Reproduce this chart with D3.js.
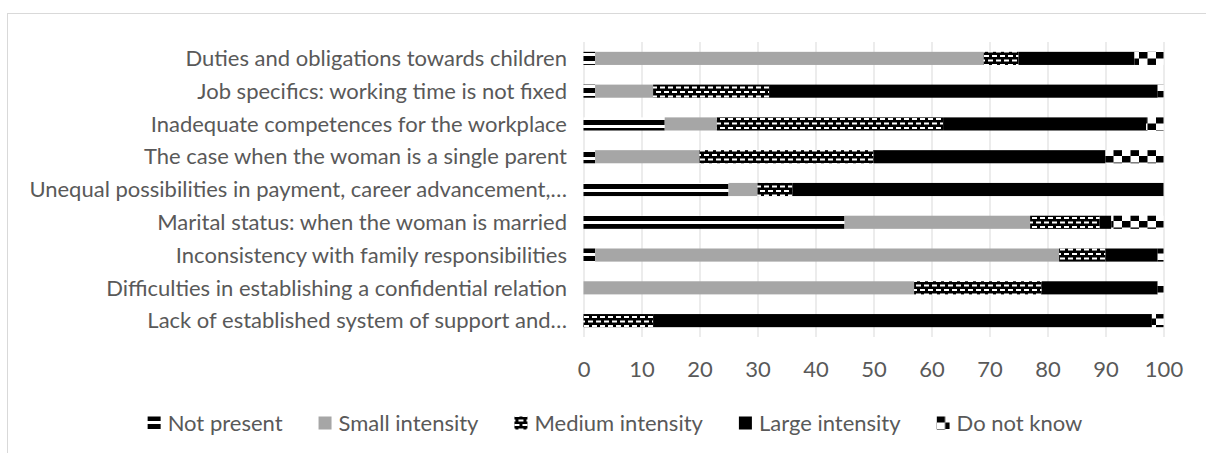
<!DOCTYPE html>
<html>
<head>
<meta charset="utf-8">
<script src="https://d3js.org/d3.v7.min.js"></script>
<style>
  body { margin: 0; background: #fff; }
  text { font-family: Lato, "Noto Sans", sans-serif; fill: #595959; }
</style>
</head>
<body>
<div id="chart"></div>
<script>

// categories, top to bottom
var categories = [
  "Duties and obligations towards children",
  "Job specifics: working time is not fixed",
  "Inadequate competences for the workplace",
  "The case when the woman is a single parent",
  "Unequal possibilities in payment, career advancement,…",
  "Marital status: when the woman is married",
  "Inconsistency with family responsibilities",
  "Difficulties in establishing a confidential relation",
  "Lack of established system of support and…"
];

var seriesNames = ["Not present", "Small intensity", "Medium intensity", "Large intensity", "Do not know"];

// shares in %, one value per category
var notPresent = [2, 2, 14, 2, 25, 45, 2, 0, 0];
var smallInt   = [67, 10, 9, 18, 5, 32, 80, 57, 0];
var mediumInt  = [6, 20, 39, 30, 6, 12, 8, 22, 12];
var largeInt   = [20, 67, 35, 40, 64, 2, 9, 20, 86];
var doNotKnow  = [5, 1, 3, 10, 0, 9, 1, 1, 2];

var xTicks = [0, 10, 20, 30, 40, 50, 60, 70, 80, 90, 100];

var W = 1206, H = 453;
var plotLeft = 583.5, plotRight = 1163.5, plotTop = 42, plotBottom = 337;
var fontSize = 22;

var svg = d3.select("#chart").append("svg")
    .attr("width", W)
    .attr("height", H);

// fills: patterns as in the original
var defs = svg.append("defs");

var p1 = defs.append("pattern").attr("id", "pNot")
    .attr("patternUnits", "userSpaceOnUse").attr("width", 8).attr("height", 8);
p1.append("rect").attr("width", 8).attr("height", 8).attr("fill", "#fff");
p1.append("rect").attr("width", 8).attr("height", 5).attr("fill", "#000");

var p3 = defs.append("pattern").attr("id", "pMed")
    .attr("patternUnits", "userSpaceOnUse").attr("width", 8).attr("height", 9);
p3.append("rect").attr("width", 8).attr("height", 9).attr("fill", "#000");
p3.append("rect").attr("x", 0).attr("y", 1).attr("width", 5).attr("height", 2).attr("fill", "#fff");
p3.append("rect").attr("x", 4).attr("y", 5.5).attr("width", 5).attr("height", 2).attr("fill", "#fff");
p3.append("rect").attr("x", -4).attr("y", 5.5).attr("width", 5).attr("height", 2).attr("fill", "#fff");

var p5 = defs.append("pattern").attr("id", "pDnk")
    .attr("patternUnits", "userSpaceOnUse").attr("width", 17).attr("height", 13);
p5.append("rect").attr("width", 17).attr("height", 13).attr("fill", "#fff");
p5.append("rect").attr("width", 8.5).attr("height", 6.5).attr("fill", "#000");
p5.append("rect").attr("x", 8.5).attr("y", 6.5).attr("width", 8.5).attr("height", 6.5).attr("fill", "#000");

var fills = ["url(#pNot)", "#a6a6a6", "url(#pMed)", "#000000", "url(#pDnk)"];

// chart frame
svg.append("rect")
    .attr("x", 7.5).attr("y", 13.5)
    .attr("width", W + 10).attr("height", H + 10)
    .attr("fill", "none").attr("stroke", "#d9d9d9");

var x = d3.scaleLinear().domain([0, 100]).range([plotLeft, plotRight]);
var y = d3.scaleBand().domain(categories).range([plotTop, plotBottom])
    .paddingInner(0.6).paddingOuter(0.3);

// gridlines + tick labels
var xAxis = svg.append("g")
    .attr("transform", "translate(0," + plotBottom + ")")
    .call(d3.axisBottom(x).tickValues(xTicks).tickSize(-(plotBottom - plotTop)).tickPadding(24));
xAxis.select(".domain").remove();
xAxis.selectAll("line").attr("stroke", "#d9d9d9").attr("stroke-width", 1);
xAxis.selectAll("text").attr("font-size", fontSize).attr("fill", "#595959")
    .style("font-family", "Lato, 'Noto Sans', sans-serif");

// stacked bars
var rows = categories.map(function(c, i) {
  return { cat: c, "Not present": notPresent[i], "Small intensity": smallInt[i],
           "Medium intensity": mediumInt[i], "Large intensity": largeInt[i], "Do not know": doNotKnow[i] };
});
var stacked = d3.stack().keys(seriesNames)(rows);

svg.selectAll("g.series")
  .data(stacked)
  .enter().append("g")
    .attr("class", "series")
    .attr("fill", function(d, i) { return fills[i]; })
  .selectAll("rect")
  .data(function(d) { return d; })
  .enter().append("rect")
    .attr("x", function(d) { return x(d[0]); })
    .attr("y", function(d) { return y(d.data.cat); })
    .attr("width", function(d) { return x(d[1]) - x(d[0]); })
    .attr("height", y.bandwidth());

// category labels
svg.selectAll("text.cat")
  .data(categories)
  .enter().append("text")
    .attr("class", "cat")
    .attr("x", 567)
    .attr("y", function(d) { return y(d) + y.bandwidth() / 2; })
    .attr("dy", "0.35em")
    .attr("text-anchor", "end")
    .attr("font-size", fontSize)
    .text(function(d) { return d; });

// legend, centred under the chart
var legend = svg.append("g");
var lx = 0;
seriesNames.forEach(function(name, i) {
  var g = legend.append("g").attr("transform", "translate(" + lx + ",0)");
  g.append("rect").attr("x", 0).attr("y", 416.5).attr("width", 13).attr("height", 13)
      .attr("fill", fills[i]);
  var t = g.append("text").attr("x", 20).attr("y", 423).attr("dy", "0.35em")
      .attr("font-size", fontSize).text(name);
  lx += 20 + t.node().getComputedTextLength() + 36;
});
var legendW = lx - 36;
legend.attr("transform", "translate(" + (615 - legendW / 2) + ",0)");

</script>
</body>
</html>
